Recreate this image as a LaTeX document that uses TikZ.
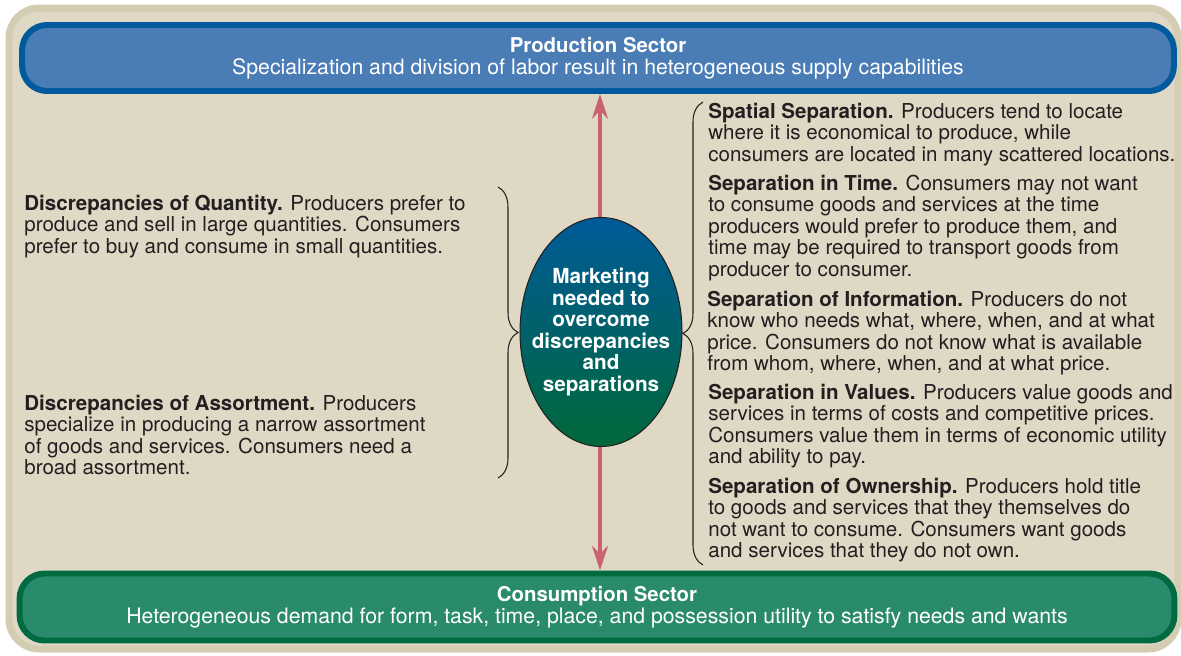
\documentclass[tikz,border=0pt]{standalone}
\usepackage{fontspec}
\setmainfont{TeX Gyre Heros}
\usetikzlibrary{arrows.meta,decorations.pathreplacing}
\definecolor{paper}{HTML}{DFD8C5}
\definecolor{paperedge}{HTML}{D4CCB3}
\definecolor{prodfill}{HTML}{4A7DB6}
\definecolor{proddraw}{HTML}{005A9E}
\definecolor{consfill}{HTML}{2A8A6C}
\definecolor{consdraw}{HTML}{006A40}
\definecolor{flowred}{HTML}{C8636F}
\definecolor{mkttop}{HTML}{005A98}
\definecolor{mktbottom}{HTML}{00683A}
\definecolor{ink}{HTML}{231F20}
\newcommand{\sectortitle}[1]{{\fontsize{11.6}{12.6}\selectfont\bfseries #1}}

\begin{document}
\begin{tikzpicture}[x=0.02cm,y=-0.02cm,
  sector/.style={rounded corners=0.5cm,line width=3.4pt,text=white,align=center,
    minimum width=23.04cm,minimum height=1.32cm,font=\fontsize{12.1}{12.6}\selectfont},
  note/.style={anchor=base west,align=left,inner sep=0pt,text=ink,
    font=\fontsize{11.7}{12.2}\selectfont},
  gapbrace/.style={decorate,decoration={brace,amplitude=0.4cm},draw=ink,line width=0.6pt},
  flow/.style={draw=flowred,line width=2.3pt,>={Stealth[length=14pt,width=9pt]},<->}]
\useasboundingbox (0,0) rectangle (1181,656);
\draw[draw=paperedge,fill=paper,line width=0.14cm,rounded corners=0.6cm] (9,8) rectangle (1178,649);
\node[sector,draw=proddraw,fill=prodfill] (prod) at (598,58)
  {\sectortitle{Production Sector}\\Specialization and division of labor result in heterogeneous supply capabilities};
\node[sector,draw=consdraw,fill=consfill,minimum width=23.1cm,minimum height=1.34cm] (cons) at (597,607)
  {\sectortitle{Consumption Sector}\\Heterogeneous demand for form, task, time, place, and possession utility to satisfy needs and wants};
\coordinate (axis) at (600,332);
\draw[flow] (prod.south -| axis) -- (cons.north -| axis);
\shadedraw[draw=ink,line width=0.6pt,top color=mkttop,bottom color=mktbottom]
  (601,332) ellipse [x radius=1.62cm,y radius=2.29cm];
\node[text=white,align=center,font=\bfseries\fontsize{11.8}{12.2}\selectfont] (mkt) at (601,332)
  {Marketing\\needed to\\overcome\\discrepancies\\and\\separations};
% braces
\draw[gapbrace] (498,187) -- (498,478);
\draw[gapbrace] (703,565) -- (703,102);
% left column
\node[note] (quantity) at (24,253) {\textbf{Discrepancies of Quantity.} Producers prefer to\\produce and sell in large quantities. Consumers\\prefer to buy and consume in small quantities.};
\node[note] (assortment) at (24,474.5) {\textbf{Discrepancies of Assortment.} Producers\\specialize in producing a narrow assortment\\of goods and services. Consumers need a\\broad assortment.};
% right column
\node[note] (spatial) at (708,161) {\textbf{Spatial Separation.} Producers tend to locate\\where it is economical to produce, while\\consumers are located in many scattered locations.};
\node[note] (time) at (708,276) {\textbf{Separation in Time.} Consumers may not want\\to consume goods and services at the time\\producers would prefer to produce them, and\\time may be required to transport goods from\\producer to consumer.};
\node[note] (information) at (707,370.5) {\textbf{Separation of Information.} Producers do not\\know who needs what, where, when, and at what\\price. Consumers do not know what is available\\from whom, where, when, and at what price.};
\node[note] (values) at (708,463.5) {\textbf{Separation in Values.} Producers value goods and\\services in terms of costs and competitive prices.\\Consumers value them in terms of economic utility\\and ability to pay.};
\node[note] (ownership) at (708,557.5) {\textbf{Separation of Ownership.} Producers hold title\\to goods and services that they themselves do\\not want to consume. Consumers want goods\\and services that they do not own.};
\end{tikzpicture}
\end{document}
